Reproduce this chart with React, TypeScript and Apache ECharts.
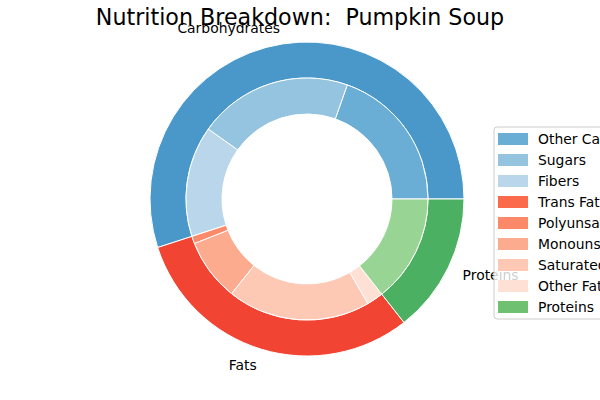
import React, { useEffect, useRef } from "react";
import * as echarts from "echarts";

const titleText = "Nutrition Breakdown:  Pumpkin Soup";

const outerNames = ["Carbohydrates", "Fats", "Proteins"];
const outerValues = [55, 30.6, 14.4];
const outerColors = ["#4a98c9", "#f14432", "#4bb062"];

const innerNames = [
  "Other Carbs",
  "Sugars",
  "Fibers",
  "Trans Fat",
  "Polyunsaturated Fat",
  "Monounsaturated Fat",
  "Saturated Fat",
  "Other Fat",
  "Proteins",
];
const innerValues = [19.6, 20.6, 14.8, 0, 1.0, 8.3, 19.1, 2.2, 14.4];
const innerColors = [
  "#6aaed6",
  "#94c4df",
  "#b9d6ea",
  "#fb6b4b",
  "#fc8a6a",
  "#fcab8f",
  "#fdc9b4",
  "#fee1d4",
  "#98d594",
];
const legendColors = [
  "#6aaed6",
  "#94c4df",
  "#b9d6ea",
  "#fb6b4b",
  "#fc8a6a",
  "#fcab8f",
  "#fdc9b4",
  "#fee1d4",
  "#6fc071",
];

const FONT = "DejaVu Sans";

export default function App() {
  const ref = useRef<HTMLDivElement>(null);
  useEffect(() => {
    if (!ref.current) return;
    const chart = echarts.init(ref.current, undefined, { renderer: "svg" });
    chart.setOption({
      animation: false,
      backgroundColor: "#ffffff",
      title: {
        text: titleText,
        left: "center",
        top: 6,
        padding: 0,
        textStyle: { fontFamily: FONT, fontSize: 22.2, fontWeight: "normal", color: "#000" },
      },
      legend: {
        orient: "vertical",
        left: 494,
        top: 127,
        padding: [5, 0, 5, 4],
        itemWidth: 30,
        itemHeight: 12,
        itemGap: 7,
        icon: "rect",
        borderColor: "#cccccc",
        borderWidth: 1,
        borderRadius: 3,
        backgroundColor: "rgba(255,255,255,0.8)",
        selectedMode: false,
        textStyle: {
          fontFamily: FONT,
          fontSize: 13.9,
          lineHeight: 14,
          color: "#000",
          padding: [0, 0, 0, 5],
        },
        data: innerNames.map((n, i) => ({
          name: n,
          itemStyle: { color: legendColors[i], borderWidth: 0 },
        })),
      },
      series: [
        {
          type: "pie",
          center: [307, 199],
          radius: [121, 157],
          startAngle: 0,
          clockwise: false,
          avoidLabelOverlap: false,
          itemStyle: { borderColor: "#ffffff", borderWidth: 1 },
          label: {
            show: true,
            position: "outside",
            fontFamily: FONT,
            fontSize: 13.9,
            color: "#000",
            distanceToLabelLine: 0,
          },
          labelLine: { show: false, length: 16, length2: 0 },
          emphasis: { disabled: true },
          data: outerNames.map((n, i) => ({
            name: n,
            value: outerValues[i],
            itemStyle: { color: outerColors[i] },
          })),
        },
        {
          type: "pie",
          center: [307, 199],
          radius: [85, 121],
          startAngle: 0,
          clockwise: false,
          itemStyle: { borderColor: "#ffffff", borderWidth: 1 },
          label: { show: false },
          labelLine: { show: false },
          emphasis: { disabled: true },
          data: innerNames.map((n, i) => ({
            name: n,
            value: innerValues[i],
            itemStyle: { color: innerColors[i] },
          })),
        },
      ],
    });
    return () => chart.dispose();
  }, []);
  return (
    <div
      ref={ref}
      style={{ position: "fixed", left: 0, top: 0, width: 600, height: 400 }}
    />
  );
}
